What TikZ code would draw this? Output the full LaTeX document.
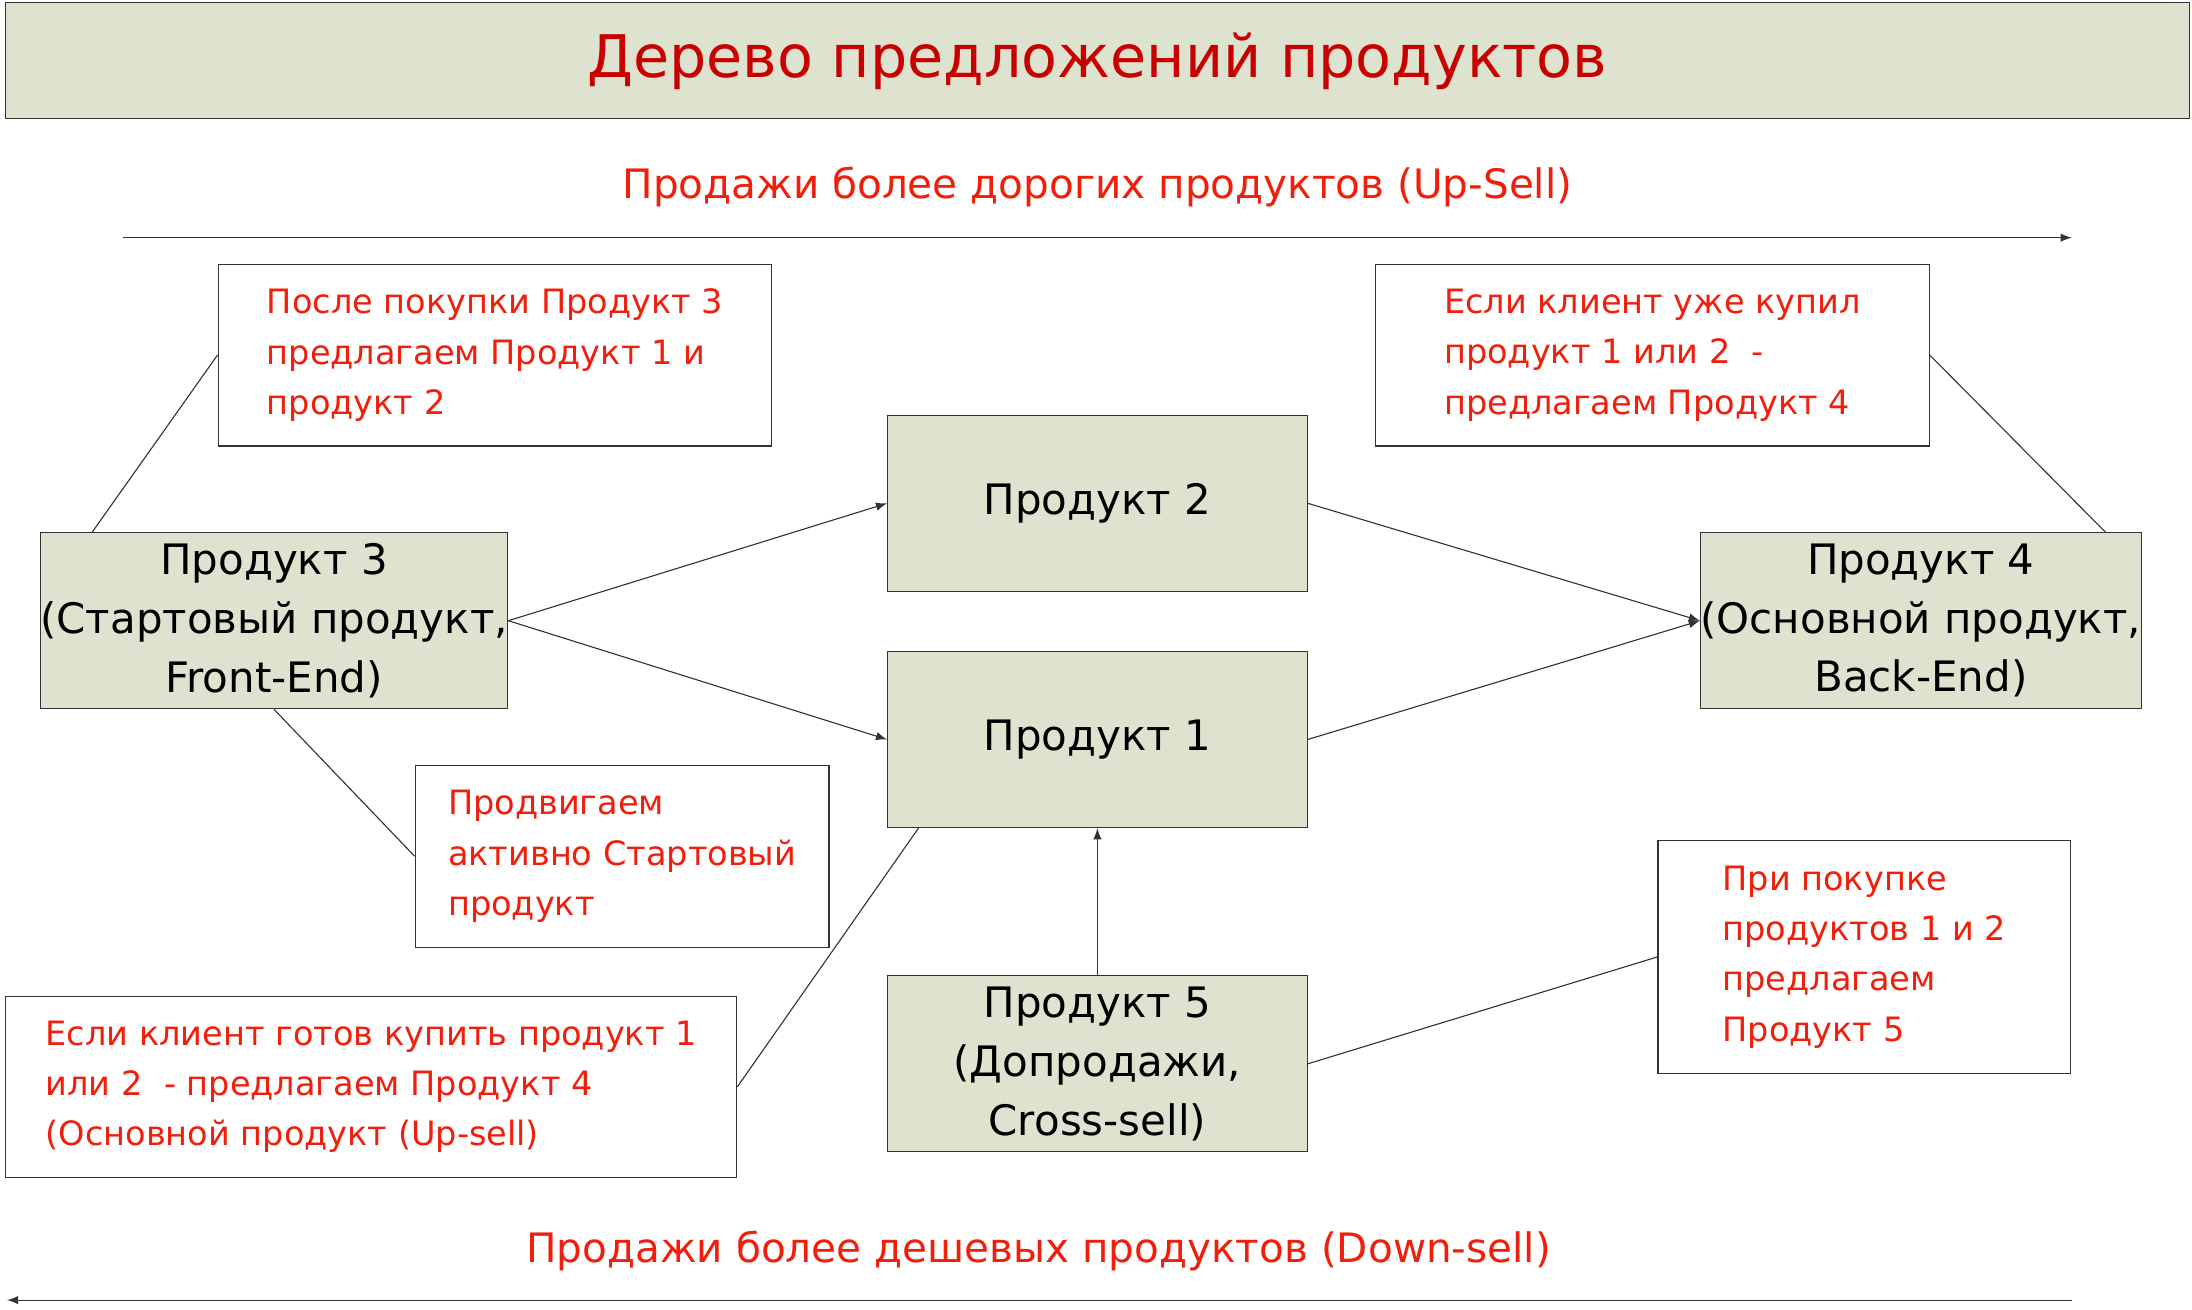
\documentclass[tikz,border=0pt]{standalone}
\usepackage{fontspec}
\setmainfont{DejaVu Sans}
\usetikzlibrary{positioning}
\definecolor{boxfill}{RGB}{221,227,207}
\definecolor{titlered}{RGB}{200,0,0}
\definecolor{notered}{RGB}{240,30,10}
\tikzset{
  prod/.style={draw=black!80, fill=boxfill, minimum width=150pt, minimum height=63pt,
    align=center, font=\fontsize{15}{21}\selectfont, inner sep=0pt},
  note/.style={draw=black!80, fill=white, minimum width=198pt, minimum height=65pt,
    align=left, text=notered, font=\fontsize{12}{18}\selectfont, inner sep=6pt},
  link/.style={draw=black!80, line width=0.4pt},
  flow/.style={link, -latex}
}
\begin{document}
\begin{tikzpicture}[x=0.5pt, y=-0.5pt]
    \useasboundingbox (0,0) rectangle (1568,937);

    % Title bar
    \node[draw=black!80, fill=boxfill, minimum width=781pt, minimum height=41.5pt,
      text=titlered, font=\fontsize{21}{25}\selectfont] (title) at (785,43.5) {Дерево предложений продуктов};

    % Up-sell / down-sell axes
    \node[text=notered, font=\fontsize{14.5}{18}\selectfont] (up) at (785,134) {Продажи более дорогих продуктов (Up-Sell)};
    \coordinate (upA) at (88,170);
    \coordinate (upB) at (1482,170);
    \draw[flow] (upA) -- (upB);
    \node[text=notered, font=\fontsize{14.5}{18}\selectfont] (down) at (743,895) {Продажи более дешевых продуктов (Down-sell)};
    \coordinate (downA) at (1482,930);
    \coordinate (downB) at (5,930);
    \draw[flow] (downA) -- (downB);

    % Products
    \node[prod] (p3) at (196,444) {Продукт 3\\(Стартовый продукт,\\Front-End)};
    \node[prod] (p2) at (785,360) {Продукт 2};
    \node[prod] (p1) at (785,529) {Продукт 1};
    \node[prod] (p4) at (1374,444) {Продукт 4\\(Основной продукт,\\Back-End)};
    \node[prod] (p5) at (785,761) {Продукт 5\\(Допродажи,\\Cross-sell)};

    % Notes
    \node[note] (na) at (354,254) {После покупки Продукт 3\\предлагаем Продукт 1 и\\продукт 2};
    \node[note] (nb) at (1182,254) {Если клиент уже купил\\продукт 1 или 2 \ -\\предлагаем Продукт 4};
    \node[note, minimum width=148pt] (nc) at (445,612.5) {Продвигаем\\активно Стартовый\\продукт};
    \node[note, minimum width=261.5pt] (nd) at (265.5,777.5) {Если клиент готов купить продукт 1\\или 2 \ - предлагаем Продукт 4\\(Основной продукт (Up-sell)};
    \node[note, minimum width=147.5pt, minimum height=83.5pt] (ne) at (1333.5,684.5) {При покупке\\продуктов 1 и 2\\предлагаем\\Продукт 5};

    % Flows between products
    \draw[flow] (p3.east) -- (p2.west);
    \draw[flow] (p3.east) -- (p1.west);
    \draw[flow] (p2.east) -- (p4.west);
    \draw[flow] (p1.east) -- (p4.west);
    \draw[flow] (p5.north) -- (p1.south);

    % Note callouts
    \draw[link] ([xshift=-65]p3.north) -- (na.west);
    \draw[link] (p3.south) -- (nc.west);
    \draw[link] ([xshift=-64]p1.south) -- (nd.east);
    \draw[link] ([xshift=66]p4.north) -- (nb.east);
    \draw[link] (p5.east) -- (ne.west);
\end{tikzpicture}
\end{document}
